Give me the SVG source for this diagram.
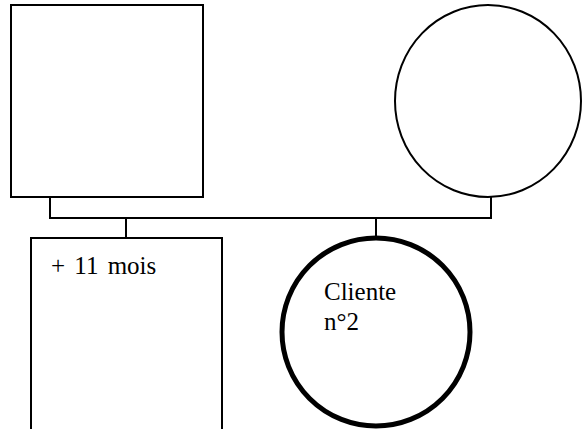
<svg xmlns="http://www.w3.org/2000/svg" width="582" height="429" viewBox="0 0 582 429">
<style>
.n{fill:#fff;stroke:#000;stroke-width:2}
.b{fill:#fff;stroke:#000;stroke-width:5}
.c{fill:none;stroke:#000;stroke-width:2}
.t{font-family:'Liberation Serif','Times New Roman',Times,serif;font-size:25px;fill:#000}
</style>
<rect width="582" height="429" fill="#fff"/>
<g id="connectors">
<polyline class="c" points="50,197 50,218 491,218 491,197"/>
<line class="c" x1="126" y1="218" x2="126" y2="238"/>
<line class="c" x1="376" y1="218" x2="376" y2="238"/>
</g>
<g id="father"><rect class="n" x="11" y="5" width="192" height="192"/></g>
<g id="mother"><ellipse class="n" cx="488" cy="101" rx="93" ry="96"/></g>
<g id="son"><rect class="n" x="31" y="238" width="191" height="200"/><text class="t" font-family="Liberation Serif" x="51" y="274" word-spacing="3">+ 11 mois</text></g>
<g id="client"><circle class="b" cx="376" cy="332" r="94"/><text class="t" font-family="Liberation Serif" x="324" y="300">Cliente</text><text class="t" font-family="Liberation Serif" x="324" y="330">n°2</text></g>
</svg>
